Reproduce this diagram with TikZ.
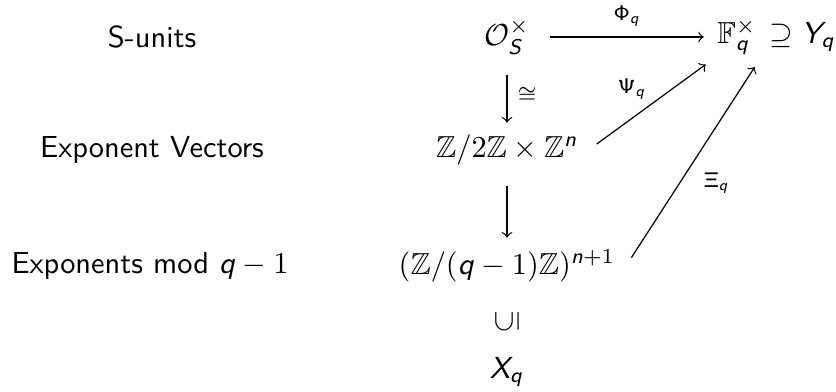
\documentclass[tikz,border=0pt]{standalone}
\usepackage{amsmath,amssymb,graphicx}
\renewcommand{\familydefault}{\sfdefault}
% sans serif math letters, as in beamer
\DeclareSymbolFont{sfletters}{OT1}{cmss}{m}{it}
\DeclareSymbolFont{sfupright}{OT1}{cmss}{m}{n}
\DeclareMathSymbol{q}{\mathalpha}{sfletters}{`q}
\DeclareMathSymbol{n}{\mathalpha}{sfletters}{`n}
\DeclareMathSymbol{S}{\mathalpha}{sfletters}{`S}
\DeclareMathSymbol{X}{\mathalpha}{sfletters}{`X}
\DeclareMathSymbol{Y}{\mathalpha}{sfletters}{`Y}
\DeclareMathSymbol{\Phi}{\mathalpha}{sfupright}{"08}
\DeclareMathSymbol{\Psi}{\mathalpha}{sfupright}{"09}
\DeclareMathSymbol{\Xi}{\mathalpha}{sfupright}{"04}
\begin{document}
\begin{tikzpicture}[
  x=0.329pt, y=-0.329pt,
  lbl/.style={font=\normalsize},
  obj/.style={inner sep=3.3pt},
  tag/.style={font=\scriptsize},
  map/.style={->, shorten <=3.3pt, shorten >=3.3pt},
  vmap/.style={map, shorten >=0.5pt},
  >=to
]
\useasboundingbox (0,0) rectangle (836,392);
% row labels
\node[lbl] (su) at (152,37)  {S-units};
\node[lbl] (ev) at (152,150) {Exponent Vectors};
\node[lbl] (em) at (150,266) {Exponents mod $q-1$};
% middle column
\node[obj] (OS) at (507,37)  {$\mathcal{O}_S^\times$};
\node[obj] (Z2) at (507,150) {$\mathbb{Z}/2\mathbb{Z}\times\mathbb{Z}^n$};
\node[obj] (Zq) at (507,266) {$(\mathbb{Z}/(q-1)\mathbb{Z})^{n+1}$};
\node[obj] (in) at (507,322) {\rotatebox{90}{$\subseteq$}};
\node[obj] (Xq) at (507,372) {$X_q$};
% target
\node[obj, inner sep=1pt] (F) at (737,37) {$\mathbb{F}_q^\times$};
\node[anchor=base west, inner sep=0pt] (Yq) at (F.base east) {$\mskip\thickmuskip\supseteq Y_q$};
% maps
\draw[map] (OS) -- node[tag, above] {$\Phi_q$} (F);
\draw[vmap] (OS) -- node[tag, right] {$\cong$} (Z2);
\draw[vmap] (Z2) -- (Zq);
\draw[map] (Z2.east) -- node[tag, above left, inner sep=1.5pt, pos=0.5] {$\Psi_q$} (F.south west);
\draw[map] (Zq.east) -- node[tag, below right, pos=0.5] {$\Xi_q$} (F.south east);
\end{tikzpicture}
\end{document}
